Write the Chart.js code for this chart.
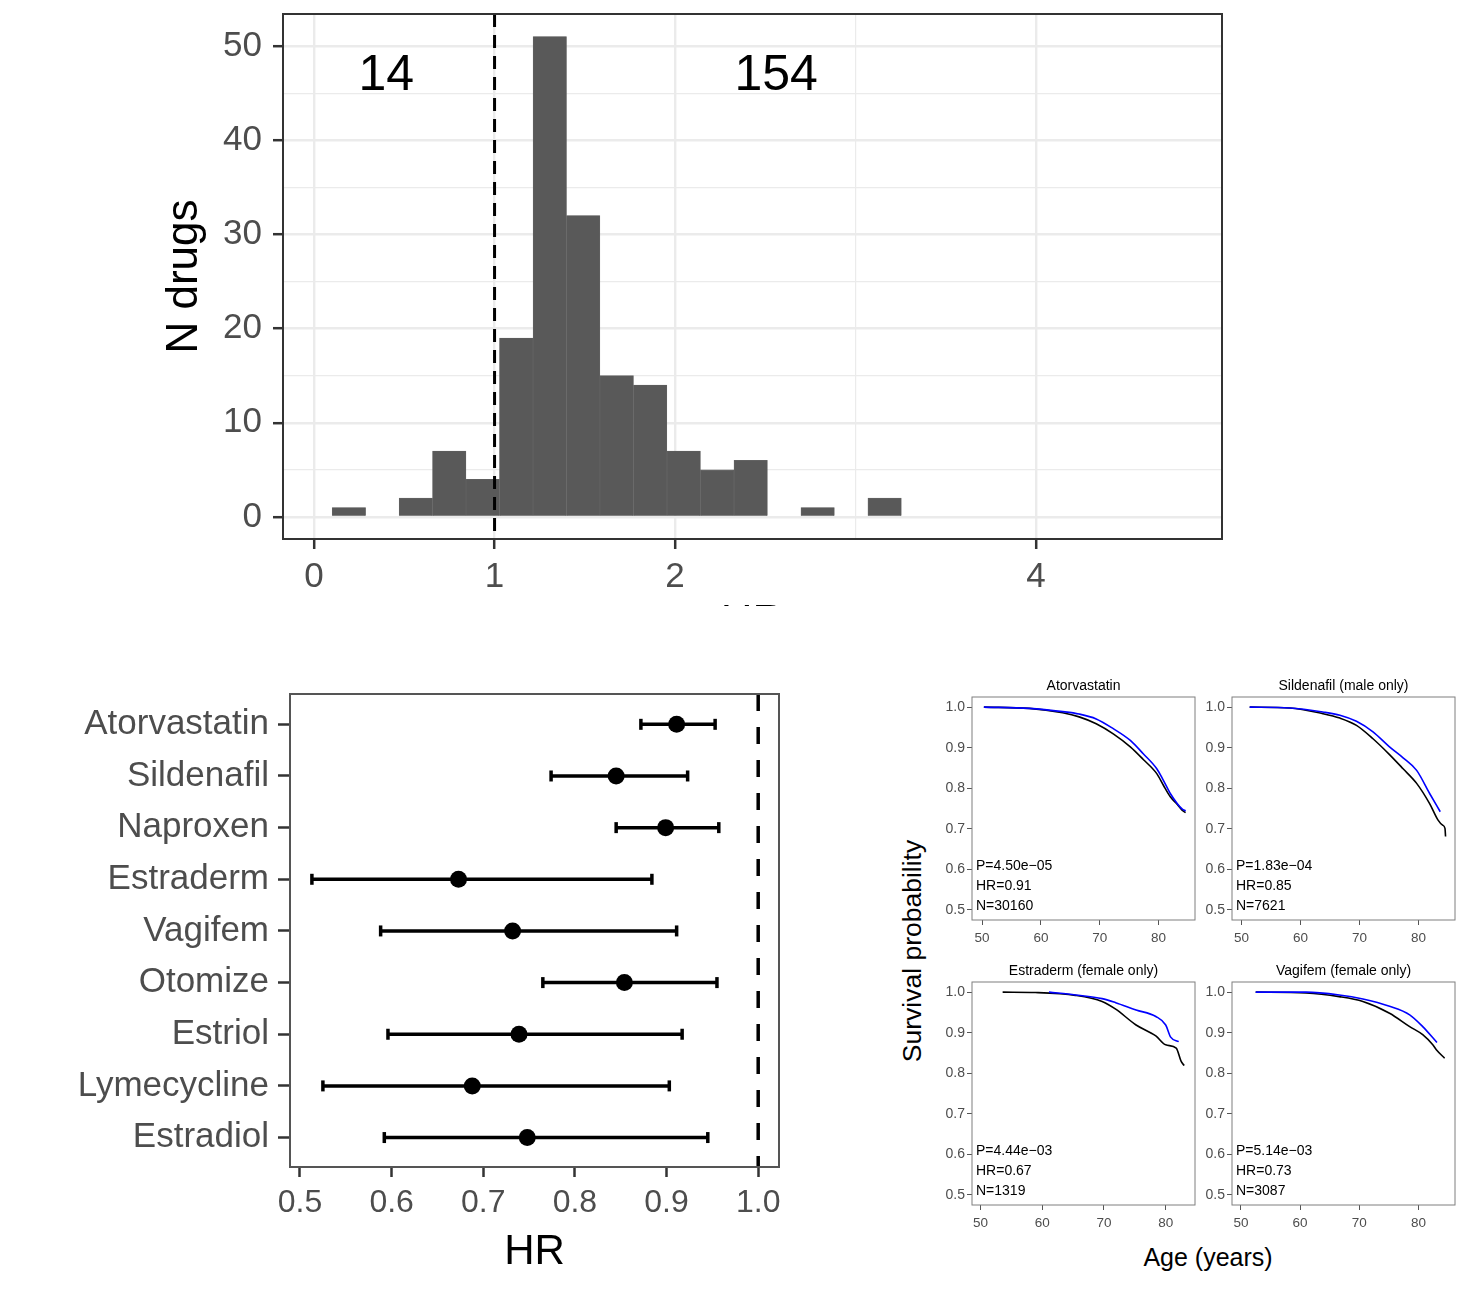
<!DOCTYPE html>
<html>
<head>
<meta charset="utf-8">
<script src="https://cdn.jsdelivr.net/npm/chart.js@4.4.1/dist/chart.umd.min.js"></script>
<style>
  body { margin: 0; background: #fff; width: 1466px; height: 1297px; position: relative; overflow: hidden;
         font-family: "Liberation Sans", Arial, Helvetica, sans-serif; }
  .abs { position: absolute; }
  #histWrap { left: 0; top: 0; width: 1466px; height: 606px; overflow: hidden; }
  .sharedTitle { color: #000; white-space: nowrap; transform: translate(-50%, -50%); }
  #survY { left: 912px; top: 951px; font-size: 26.5px; transform: translate(-50%, -50%) rotate(-90deg); }
  #survX { left: 1208px; top: 1257px; font-size: 25px; }
</style>
</head>
<body>
<div id="histWrap" class="abs">
  <canvas id="histChart" class="abs" width="1110" height="698" style="left:130px;top:-18px"></canvas>
</div>
<canvas id="forestChart" class="abs" width="800" height="630" style="left:0;top:660px"></canvas>
<canvas id="surv1" class="abs" width="270" height="275" style="left:930px;top:672px"></canvas>
<canvas id="surv2" class="abs" width="270" height="275" style="left:1190px;top:672px"></canvas>
<canvas id="surv3" class="abs" width="270" height="275" style="left:930px;top:957px"></canvas>
<canvas id="surv4" class="abs" width="270" height="275" style="left:1190px;top:957px"></canvas>
<div id="survY" class="abs sharedTitle">Survival probability</div>
<div id="survX" class="abs sharedTitle">Age (years)</div>

<script>
// ---- Histogram of HR over all drugs ----
const histBinCenters = [0.193, 0.378, 0.564, 0.749, 0.935, 1.120, 1.306, 1.491, 1.677,
                        1.862, 2.048, 2.233, 2.419, 2.604, 2.790, 2.975, 3.161];
const histCounts = [1, 0, 2, 7, 4, 19, 51, 32, 15, 14, 7, 5, 6, 0, 1, 0, 2];
const histXTicks = [0, 1, 2, 3, 4];
const histXLabels = ['0', '1', '2', '', '4'];
const histYTicks = [0, 5, 10, 15, 20, 25, 30, 35, 40, 45, 50];
const histNotes = ['14', '154'];
const histNoteX = [0.40, 2.56];
const histNoteY = [46.8, 46.8];

// ---- Forest plot ----
const drugs = ['Atorvastatin', 'Sildenafil', 'Naproxen', 'Estraderm', 'Vagifem',
               'Otomize', 'Estriol', 'Lymecycline', 'Estradiol'];
const drugHR = [0.911, 0.845, 0.899, 0.673, 0.732, 0.854, 0.739, 0.688, 0.748];
const drugLo = [0.872, 0.774, 0.845, 0.513, 0.588, 0.765, 0.596, 0.525, 0.592];
const drugHi = [0.953, 0.923, 0.957, 0.884, 0.911, 0.955, 0.917, 0.903, 0.945];
const forestXTicks = [0.5, 0.6, 0.7, 0.8, 0.9, 1.0];

// ---- Survival curves (blue = drug users, black = matched non-users) ----
const survYTicks = [0.5, 0.6, 0.7, 0.8, 0.9, 1.0];
const survXTicks = [50, 60, 70, 80];

const atorAgeBlue  = [50.3, 58.0, 63.7, 66.5, 69.4, 72.3, 75.2, 77.4, 79.7, 80.8, 82.0, 83.2, 84.0, 84.6];
const atorSurvBlue = [1.0, 0.997, 0.989, 0.983, 0.971, 0.947, 0.918, 0.885, 0.848, 0.820, 0.787, 0.762, 0.749, 0.744];
const atorAgeBlack  = [50.3, 58.0, 63.7, 66.5, 69.4, 72.3, 75.2, 77.4, 79.7, 80.8, 82.0, 83.2, 84.0, 84.6];
const atorSurvBlack = [1.0, 0.997, 0.986, 0.976, 0.959, 0.934, 0.902, 0.871, 0.836, 0.808, 0.779, 0.760, 0.746, 0.740];

const sildAgeBlue  = [51.4, 58.2, 63.8, 66.7, 69.5, 72.3, 75.1, 77.4, 79.7, 81.9, 83.7];
const sildSurvBlue = [1.0, 0.998, 0.988, 0.980, 0.965, 0.939, 0.902, 0.875, 0.844, 0.787, 0.742];
const sildAgeBlack  = [51.4, 58.2, 63.8, 66.7, 69.5, 72.3, 75.1, 77.4, 79.7, 81.9, 83.3, 84.1, 84.5, 84.6];
const sildSurvBlack = [1.0, 0.998, 0.984, 0.973, 0.955, 0.922, 0.883, 0.848, 0.812, 0.762, 0.722, 0.709, 0.701, 0.681];

const estdAgeBlue  = [61.1, 65.4, 69.7, 71.9, 75.2, 78.4, 80.0, 80.8, 82.1];
const estdSurvBlue = [1.0, 0.993, 0.984, 0.974, 0.956, 0.940, 0.919, 0.889, 0.878];
const estdAgeBlack  = [53.6, 58.9, 65.4, 69.7, 71.9, 75.2, 78.4, 80.0, 81.7, 82.5, 83.0];
const estdSurvBlack = [1.0, 0.999, 0.992, 0.977, 0.958, 0.919, 0.892, 0.870, 0.862, 0.829, 0.819];

const vagiAgeBlue  = [52.5, 61.0, 66.6, 70.6, 75.1, 78.5, 80.7, 83.1];
const vagiSurvBlue = [1.0, 1.0, 0.993, 0.983, 0.965, 0.944, 0.915, 0.876];
const vagiAgeBlack  = [52.5, 61.0, 66.6, 70.6, 75.1, 78.5, 80.7, 82.4, 83.0, 84.4];
const vagiSurvBlack = [1.0, 0.998, 0.989, 0.977, 0.948, 0.915, 0.895, 0.870, 0.858, 0.837];

const FONT = '"Liberation Sans", Arial, Helvetica, sans-serif';
Chart.defaults.font.family = FONT;
Chart.defaults.animation = false;
Chart.defaults.responsive = false;
Chart.defaults.plugins.legend.display = false;
Chart.defaults.plugins.tooltip.enabled = false;

const zip = (xs, ys) => xs.map((x, i) => ({ x: x, y: ys[i] }));

// box around the plotting panel, like ggplot's panel.border
function boxPlugin(color, width) {
    return {
        id: 'box',
        afterDraw(chart) {
            const a = chart.chartArea, ctx = chart.ctx;
            ctx.save();
            ctx.strokeStyle = color;
            ctx.lineWidth = width;
            ctx.strokeRect(a.left, a.top, a.right - a.left, a.bottom - a.top);
            ctx.restore();
        }
    };
}

// vertical dashed reference line at a data value
function vlinePlugin(value, dash, width) {
    return {
        id: 'vline',
        afterDatasetsDraw(chart) {
            const a = chart.chartArea, ctx = chart.ctx;
            const x = chart.scales.x.getPixelForValue(value);
            ctx.save();
            ctx.strokeStyle = '#000';
            ctx.lineWidth = width;
            ctx.setLineDash(dash);
            ctx.beginPath();
            ctx.moveTo(x, a.top);
            ctx.lineTo(x, a.bottom);
            ctx.stroke();
            ctx.restore();
        }
    };
}

/* ---------------- histogram ---------------- */
new Chart(document.getElementById('histChart'), {
    type: 'bar',
    data: {
        datasets: [{
            data: zip(histBinCenters, histCounts),
            backgroundColor: c => (c.raw && c.raw.y > 0) ? '#595959' : 'rgba(0,0,0,0)',
            borderColor: c => (c.raw && c.raw.y > 0) ? '#666666' : 'rgba(0,0,0,0)',
            borderWidth: 0.6,
            barPercentage: 1,
            categoryPercentage: 1
        }]
    },
    options: {
        layout: { padding: { top: 0, right: 18, left: 0, bottom: 0 } },
        scales: {
            x: {
                type: 'linear', min: -0.172, max: 5.03, offset: false,
                afterBuildTicks: a => { a.ticks = histXTicks.map(v => ({ value: v })); },
                afterFit: s => { s.height = 141; },
                ticks: {
                    autoSkip: false, maxRotation: 0, padding: 7,
                    font: { size: 35 }, color: '#4d4d4d',
                    callback: (v, i) => histXLabels[i]
                },
                grid: {
                    offset: false,
                    color: '#ebebeb',
                    lineWidth: c => (c.tick && c.tick.value === 3) ? 1.2 : 2.4,
                    tickLength: 10, tickWidth: 2.5,
                    tickColor: c => (c.tick && c.tick.value === 3) ? 'rgba(0,0,0,0)' : '#333'
                },
                border: { display: false },
                title: { display: true, text: 'HR', font: { size: 44 }, color: '#000', padding: { bottom: 30 } }
            },
            y: {
                type: 'linear', min: -2.34, max: 53.4,
                afterBuildTicks: a => { a.ticks = histYTicks.map(v => ({ value: v })); },
                afterFit: s => { s.width = 153; },
                ticks: {
                    autoSkip: false, padding: 11,
                    font: { size: 35 }, color: '#4d4d4d',
                    callback: v => (v % 10 === 0 ? String(v) : '')
                },
                grid: {
                    color: '#ebebeb',
                    lineWidth: c => (c.tick && c.tick.value % 10 !== 0) ? 1.2 : 2.4,
                    tickLength: 10, tickWidth: 2.5,
                    tickColor: c => (c.tick && c.tick.value % 10 !== 0) ? 'rgba(0,0,0,0)' : '#333'
                },
                border: { display: false },
                title: { display: true, text: 'N drugs', font: { size: 44 }, color: '#000', padding: { top: 28 } }
            }
        }
    },
    plugins: [vlinePlugin(1, [13, 8], 3), boxPlugin('#333', 2), {
        id: 'notes',
        afterDraw(chart) {
            const ctx = chart.ctx;
            ctx.save();
            ctx.font = '50px ' + FONT;
            ctx.fillStyle = '#000';
            ctx.textAlign = 'center';
            ctx.textBaseline = 'middle';
            histNotes.forEach((t, i) => {
                ctx.fillText(t, chart.scales.x.getPixelForValue(histNoteX[i]),
                             chart.scales.y.getPixelForValue(histNoteY[i]));
            });
            ctx.restore();
        }
    }]
});

/* ---------------- forest plot ---------------- */
const ciSegments = [];
const ciCaps = [];
drugs.forEach((d, i) => {
    ciSegments.push({ x: drugLo[i], y: i }, { x: drugHi[i], y: i }, { x: drugHi[i], y: null });
    ciCaps.push({ x: drugLo[i], y: i }, { x: drugHi[i], y: i });
});

new Chart(document.getElementById('forestChart'), {
    type: 'scatter',
    data: {
        datasets: [
            { type: 'scatter', data: zip(drugHR, drugs.map((d, i) => i)),
              pointRadius: 8.5, backgroundColor: '#000', borderWidth: 0 },
            { type: 'scatter', data: ciCaps, pointStyle: 'line', rotation: 90,
              pointRadius: 5.5, borderColor: '#000', borderWidth: 3.5 },
            { type: 'line', data: ciSegments, showLine: true, spanGaps: false,
              borderColor: '#000', borderWidth: 3.5, pointRadius: 0 }
        ]
    },
    options: {
        layout: { padding: { top: 34, right: 21, left: 0, bottom: 0 } },
        scales: {
            x: {
                type: 'linear', min: 0.4891, max: 1.0227,
                afterBuildTicks: a => { a.ticks = forestXTicks.map(v => ({ value: v })); },
                afterFit: s => { s.height = 123; },
                ticks: { autoSkip: false, maxRotation: 0, padding: 7, font: { size: 32 }, color: '#4d4d4d',
                         callback: v => v.toFixed(1) },
                grid: { drawOnChartArea: false, tickLength: 10, tickWidth: 2.5, tickColor: '#333' },
                border: { display: false },
                title: { display: true, text: 'HR', font: { size: 42 }, color: '#000', padding: { bottom: 12 } }
            },
            y: {
                type: 'linear', reverse: true, min: -0.587, max: 8.57,
                afterBuildTicks: a => { a.ticks = drugs.map((d, i) => ({ value: i })); },
                afterFit: s => { s.width = 290; },
                ticks: { autoSkip: false, padding: 9, font: { size: 35 }, color: '#4d4d4d',
                         callback: v => drugs[v] },
                grid: { drawOnChartArea: false, tickLength: 12, tickWidth: 2.5, tickColor: '#333' },
                border: { display: false }
            }
        }
    },
    plugins: [vlinePlugin(1.0, [17, 16], 3.5), boxPlugin('#555', 2)]
});

/* ---------------- survival panels ---------------- */
function survChart(id, title, stats, xMin, xMax, ageBlue, survBlue, ageBlack, survBlack) {
    return new Chart(document.getElementById(id), {
        type: 'line',
        data: {
            datasets: [
                { data: zip(ageBlue, survBlue), borderColor: '#0000ff', borderWidth: 1.6,
                  pointRadius: 0, cubicInterpolationMode: 'monotone' },
                { data: zip(ageBlack, survBlack), borderColor: '#000', borderWidth: 1.6,
                  pointRadius: 0, cubicInterpolationMode: 'monotone' }
            ]
        },
        options: {
            layout: { padding: { top: 25, right: 5, left: 0, bottom: 0 } },
            scales: {
                x: {
                    type: 'linear', min: xMin, max: xMax,
                    afterBuildTicks: a => { a.ticks = survXTicks.map(v => ({ value: v })); },
                    afterFit: s => { s.height = 27; },
                    ticks: { autoSkip: false, maxRotation: 0, padding: 5, font: { size: 13.5 }, color: '#4d4d4d' },
                    grid: { drawOnChartArea: false, tickLength: 5, tickWidth: 1, tickColor: '#555' },
                    border: { display: false }
                },
                y: {
                    type: 'linear', min: 0.475, max: 1.025,
                    afterBuildTicks: a => { a.ticks = survYTicks.map(v => ({ value: v })); },
                    afterFit: s => { s.width = 42; },
                    ticks: { autoSkip: false, padding: 2, font: { size: 14 }, color: '#4d4d4d',
                             callback: v => v.toFixed(1) },
                    grid: { drawOnChartArea: false, tickLength: 5, tickWidth: 1, tickColor: '#555' },
                    border: { display: false }
                }
            }
        },
        plugins: [boxPlugin('#7f7f7f', 1), {
            id: 'survText',
            afterDraw(chart) {
                const a = chart.chartArea, ctx = chart.ctx;
                ctx.save();
                ctx.fillStyle = '#000';
                ctx.textBaseline = 'middle';
                ctx.font = '14px ' + FONT;
                ctx.textAlign = 'center';
                ctx.fillText(title, (a.left + a.right) / 2, a.top - 11);
                ctx.textAlign = 'left';
                stats.forEach((s, i) => ctx.fillText(s, a.left + 4, a.bottom - 54 + i * 20));
                ctx.restore();
            }
        }]
    });
}

survChart('surv1', 'Atorvastatin', ['P=4.50e\u221205', 'HR=0.91', 'N=30160'], 48.28, 86.2,
          atorAgeBlue, atorSurvBlue, atorAgeBlack, atorSurvBlack);
survChart('surv2', 'Sildenafil (male only)', ['P=1.83e\u221204', 'HR=0.85', 'N=7621'], 48.4, 86.2,
          sildAgeBlue, sildSurvBlue, sildAgeBlack, sildSurvBlack);
survChart('surv3', 'Estraderm (female only)', ['P=4.44e\u221203', 'HR=0.67', 'N=1319'], 48.64, 84.74,
          estdAgeBlue, estdSurvBlue, estdAgeBlack, estdSurvBlack);
survChart('surv4', 'Vagifem (female only)', ['P=5.14e\u221203', 'HR=0.73', 'N=3087'], 48.5, 86.15,
          vagiAgeBlue, vagiSurvBlue, vagiAgeBlack, vagiSurvBlack);
</script>
</body>
</html>
